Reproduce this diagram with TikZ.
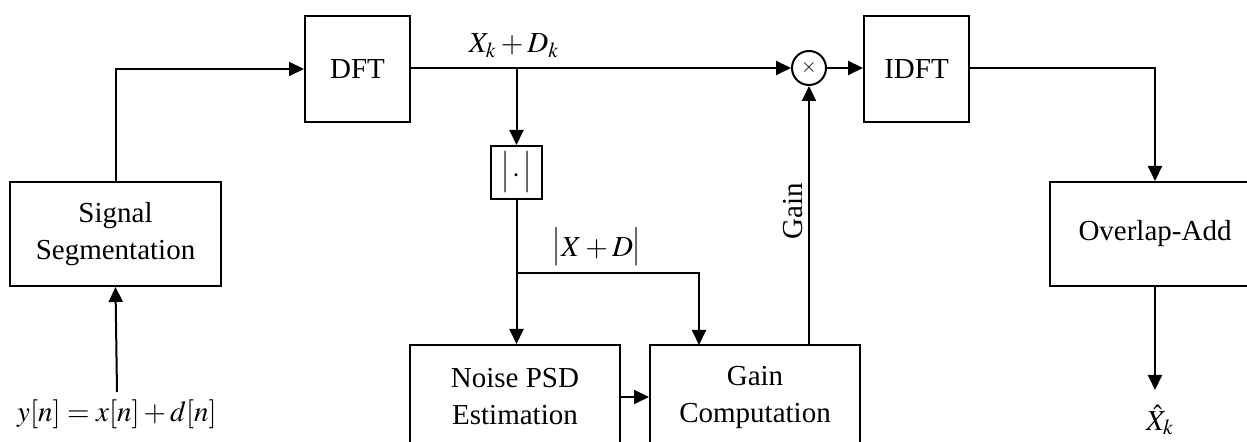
\documentclass[tikz,border=0pt]{standalone}
\usepackage{mathptmx}
\usepackage{fontspec}
\setmainfont{Liberation Serif}
\usetikzlibrary{arrows.meta}

\begin{document}
\begin{tikzpicture}[x=0.5pt, y=-0.5pt,
  block/.style={draw, line width=1pt, inner sep=0pt, align=center, font=\fontsize{14.5}{18.5}\selectfont},
  wire/.style={line width=1pt},
  arr/.style={wire, -{Triangle[length=7.5pt, width=7pt]}},
  lbl/.style={inner sep=0pt, font=\fontsize{14.5}{18.5}\selectfont}]
\clip (0,0) rectangle (1247,442);
% blocks
\node[block, minimum width=25.5pt, minimum height=26.5pt] (abs) at (516.5,172.5) {\scalebox{1}[1.45]{$|$}$\,\cdot\,$\scalebox{1}[1.45]{$|$}};
\node[block, minimum width=105.5pt, minimum height=52pt] (seg) at (115.5,234) {Signal\\Segmentation};
\node[block, minimum width=52.5pt, minimum height=53pt] (dft) at (357.5,69) {DFT};
\node[block, minimum width=105pt, minimum height=52pt] (noise) at (515,397) {Noise PSD\\Estimation};
\node[block, minimum width=105pt, minimum height=52pt] (gain) at (755,397) {Gain\\Computation};
\node[draw, circle, line width=1pt, minimum size=17pt, inner sep=0pt, font=\fontsize{10}{12}\selectfont] (mult) at (809,68) {$\times$};
\node[block, minimum width=52.5pt, minimum height=53pt] (idft) at (916.5,69) {IDFT};
\node[block, minimum width=105pt, minimum height=52pt] (ola) at (1155,234) {Overlap-Add};
% inputs / outputs
\node[lbl] (yin) at (117,414) {$y[n]=x[n]+d[n]$};
\node[lbl] (xout) at (1160,420) {$\hat{X}_k$};
\coordinate (yend) at (117,392);
\coordinate (xend) at (1155,390);
\coordinate (tap) at (516.5,68);
\coordinate (split) at (516.5,273);
\coordinate (gtop) at (809,345);
% connectors
\draw[arr] (yend) -- (seg.south);
\draw[arr] (seg.north) |- (dft.west);
\draw[arr] (dft.east |- mult.west) -- (mult.west);
\draw[arr] (tap) -- (abs.north);
\draw[wire] (abs.south) -- (split);
\draw[arr] (split) -- (noise.north -| split);
\draw[arr] (split) -| (699,345);
\draw[arr] (noise.east) -- (gain.west);
\draw[arr] (gtop) -- (mult.south);
\draw[arr] (mult.east) -- (idft.west |- mult.east);
\draw[arr] (idft.east |- mult.east) -| (ola.north);
\draw[arr] (ola.south) -- (xend);
% labels
\node[lbl] (xd) at (514,46) {$X_k+D_k$};
\node[lbl] (absxd) at (597,247) {\scalebox{1}[1.35]{$|$}$X+D$\scalebox{1}[1.35]{$|$}};
\node[lbl, rotate=90, anchor=south] (glbl) at (803,211) {Gain};
\end{tikzpicture}
\end{document}
